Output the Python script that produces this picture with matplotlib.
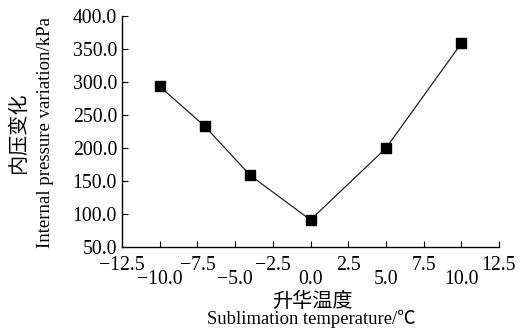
import numpy as np
import matplotlib
matplotlib.use("Agg")
import matplotlib.pyplot as plt

# data
temp = [-10, -7, -4, 0, 5, 10]
pressure = [293, 232.5, 158.5, 91, 199.5, 358]

xticks_low = [-10.0, -5.0, 0.0, 5.0, 10.0]
xticks_high = [-12.5, -7.5, -2.5, 2.5, 7.5, 12.5]
yticks = [50, 100, 150, 200, 250, 300, 350, 400]

serif = ['Liberation Serif', 'Noto Sans CJK SC']
cjk = ['Noto Sans CJK SC', 'Liberation Serif']
plt.rcParams['font.family'] = serif


def fmt(v):
    return ('%.1f' % v).replace('-', '\u2212')


fig = plt.figure(figsize=(5.24, 3.30), dpi=100)
ax = fig.add_axes([122/524, 1 - 247/330, 377/524, (247 - 15.7)/330])

ax.plot(temp, pressure, color='#222222', lw=0.9, marker='s', ms=7,
        mfc='black', mec='black')

ax.set_xlim(-12.5, 12.5)
ax.set_ylim(50, 400)
ax.set_yticks(yticks)
ax.set_yticklabels([fmt(v) for v in yticks])
ax.set_xticks(xticks_low)
ax.set_xticklabels([fmt(v) for v in xticks_low])
ax.set_xticks(xticks_high, minor=True)
ax.set_xticklabels([fmt(v) for v in xticks_high], minor=True)

for s in ['top', 'right']:
    ax.spines[s].set_visible(False)
for s in ['left', 'bottom']:
    ax.spines[s].set_linewidth(1.0)

fs = 14.2
ax.tick_params(axis='y', direction='in', length=4, width=0.8, labelsize=fs, pad=3.5)
ax.tick_params(axis='x', which='minor', direction='in', length=4, width=0.8,
               labelsize=fs, pad=6.3)
ax.tick_params(axis='x', which='major', direction='in', length=4, width=0.8,
               labelsize=fs, pad=16.6)

fig.text(312/524, 1 - 301/330, '升华温度', family=cjk, fontsize=14.5,
         ha='center', va='center')
fig.text(311/524, 1 - 319/330, 'Sublimation temperature/℃', family=serif,
         fontsize=13.4, ha='center', va='center')
fig.text(19/524, 1 - 133/330, '内压变化', family=cjk, fontsize=14.5,
         ha='center', va='center', rotation=90)
fig.text(46/524, 1 - 133/330, 'Internal pressure variation/kPa', family=serif,
         fontsize=13.5, ha='center', va='center', rotation=90)

fig.savefig('out.png', dpi=100)
